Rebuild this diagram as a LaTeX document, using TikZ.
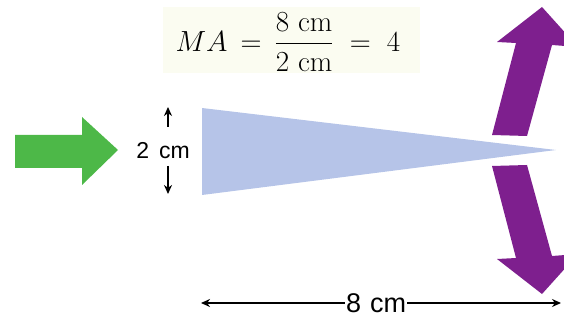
\documentclass[tikz,border=0pt]{standalone}
\usepackage{fontspec}
\usepackage{amsmath}
\newfontfamily\labelfont{Liberation Sans}
\usetikzlibrary{arrows.meta}
\definecolor{wedgeblue}{HTML}{B6C4E8}
\definecolor{arrowgreen}{HTML}{4DB848}
\definecolor{arrowpurple}{HTML}{7E1F8E}
\definecolor{formulabg}{HTML}{FBFCF1}
\tikzset{
  dimline/.style={line width=1.5pt,-{Stealth[length=9pt,width=8pt]}},
  dimlabel/.style={font=\labelfont\fontsize{23}{27}\selectfont,inner sep=1pt},
  forcearrow/.style={fill=arrowpurple,draw=none},
}
\begin{document}
\begin{tikzpicture}[x=1pt,y=-1pt]
\useasboundingbox (0,0) rectangle (564,320);
\clip (0,0) rectangle (564,320);
% formula background
\fill[formulabg] (163,7) rectangle (420,73);
\node[scale=1.17] (formula) at (288,42) {\fontsize{24.88}{30}\selectfont $MA \,=\, \dfrac{8\ \mathrm{cm}}{2\ \mathrm{cm}} \;=\; 4$};
% wedge
\fill[wedgeblue] (202,108) -- (556,150) -- (202,195) -- cycle;
% green input arrow
\fill[arrowgreen] (15,135) -- (82,135) -- (82,117) -- (118,150) -- (82,185) -- (82,168) -- (15,168) -- cycle;
% purple output arrows
\fill[arrowpurple] (492,135) -- (516,43) -- (497,42) -- (542,7) -- (578,47) -- (552,45) -- (527,136) -- cycle;
\fill[arrowpurple] (492,166) -- (516,258) -- (497,259) -- (542,294) -- (578,254) -- (552,256) -- (527,165) -- cycle;
% 2 cm dimension
\node[dimlabel] (two) at (163,151) {2\hspace{10pt}cm};
\coordinate (twoA) at (168,127);
\coordinate (twoB) at (168,107);
\coordinate (twoC) at (168,166);
\coordinate (twoD) at (168,194);
\draw[dimline] (twoA) -- (twoB);
\draw[dimline] (twoC) -- (twoD);
% 8 cm dimension
\node[dimlabel,font=\labelfont\fontsize{27}{31}\selectfont] (eight) at (376,303) {8\hspace{9pt}cm};
\coordinate (eightL) at (201,303);
\coordinate (eightR) at (561,303);
\draw[dimline] (eight.west) -- (eightL);
\draw[dimline] (eight.east) -- (eightR);
\end{tikzpicture}
\end{document}
